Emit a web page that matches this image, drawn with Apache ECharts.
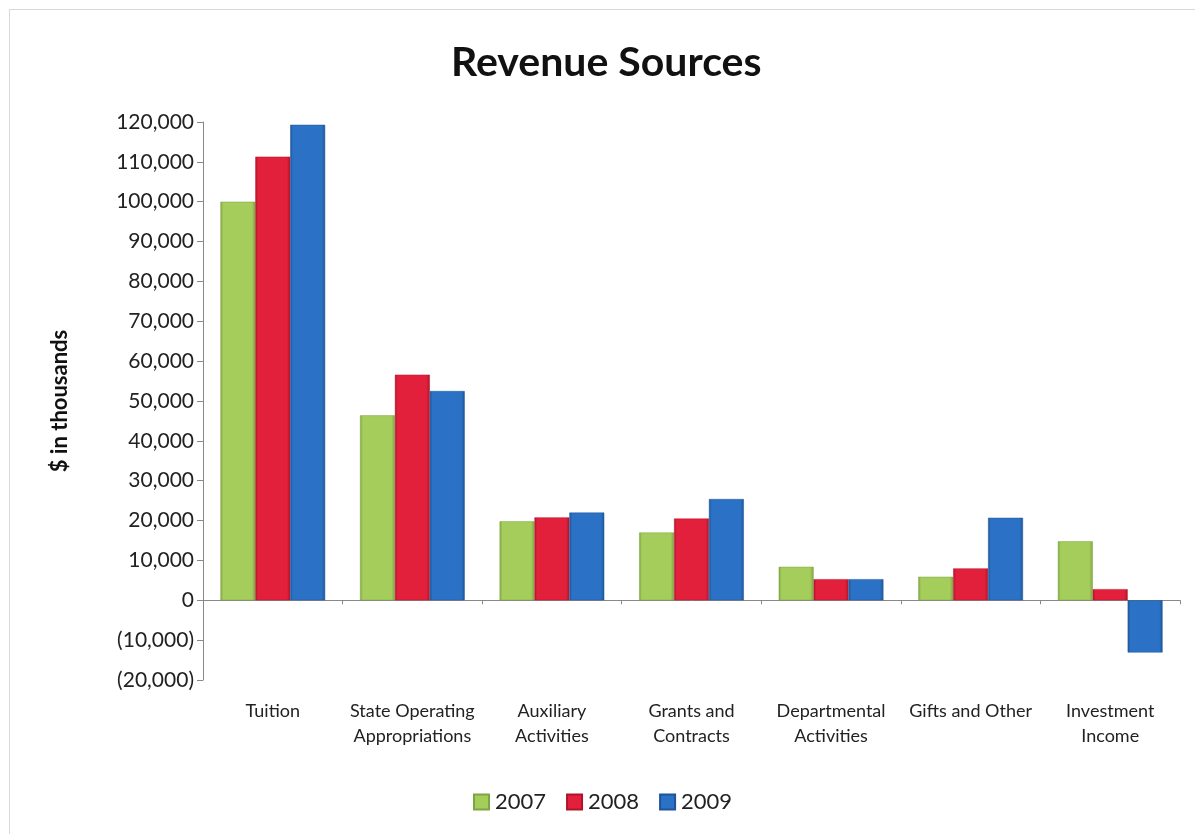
<!DOCTYPE html>
<html>
<head>
<meta charset="utf-8">
<script src="https://cdn.jsdelivr.net/npm/echarts@6/dist/echarts.min.js"></script>
<style>
html,body{margin:0;padding:0;background:#fff;}
#frame{position:absolute;left:9px;top:9px;width:1186px;height:825px;border-left:1px solid #d8d8d8;border-top:1px solid #d8d8d8;box-sizing:border-box;}
#chart{position:absolute;left:0;top:0;width:1195px;height:834px;}
</style>
</head>
<body>
<div id="frame"></div>
<div id="chart"></div>
<script>
const categories = ['Tuition', 'State Operating\nAppropriations', 'Auxiliary\nActivities', 'Grants and\nContracts', 'Departmental\nActivities', 'Gifts and Other', 'Investment\nIncome'];
const years = ['2007', '2008', '2009'];
const values2007 = [100000, 46400, 19800, 17000, 8400, 5900, 14800];
const values2008 = [111300, 56600, 20800, 20500, 5300, 8000, 2800];
const values2009 = [119300, 52500, 22000, 25400, 5300, 20700, -13100];
const colors = ['#a4cd5c', '#e3203b', '#2b72c6'];
const edgeColors = ['#7fa443', '#b0142a', '#1f5597'];

const chart = echarts.init(document.getElementById('chart'));
const fnt = 'Lato, "Open Sans", sans-serif';
function fmt(v){
  const s = Math.abs(v).toLocaleString('en-US');
  return v < 0 ? '(' + s + ')' : s;
}
function mkSeries(name, data, i){
  return {
    name: name, type: 'bar', data: data, xAxisIndex: 0,
    barGap: '0%', barCategoryGap: '25%',
    itemStyle: {
      color: new echarts.graphic.LinearGradient(0,0,1,0,[
        {offset:0, color: edgeColors[i]},
        {offset:0.08, color: colors[i]},
        {offset:0.9, color: colors[i]},
        {offset:1, color: edgeColors[i]}
      ]),
      borderColor: edgeColors[i], borderWidth: 0.5
    }
  };
}
chart.setOption({
  backgroundColor: 'transparent',
  animation: false,
  title: {
    text: 'Revenue Sources', left: 446, top: 37,
    textStyle: {fontFamily: fnt, fontWeight: 'bold', fontSize: 41, color: '#111'}
  },
  legend: {
    data: years, top: 786, left: 468,
    itemWidth: 15, itemHeight: 15, itemGap: 20, icon: 'rect',
    textStyle: {fontFamily: fnt, fontSize: 22, color: '#222', padding: [0,0,0,1]}
  },
  grid: {left: 203, right: 15, top: 122, bottom: 154, containLabel: false},
  xAxis: [
    {type: 'category', data: categories, position: 'bottom',
     axisLine: {show: false, onZero: false}, axisTick: {show: false},
     axisLabel: {fontFamily: fnt, fontSize: 18, color: '#222', lineHeight: 25, margin: 19, interval: 0}},
    {type: 'category', data: categories, position: 'bottom',
     axisLine: {show: true, onZero: true, lineStyle: {color: '#888', width: 1}},
     axisTick: {show: true, length: 4, lineStyle: {color: '#888'}},
     axisLabel: {show: false}}
  ],
  yAxis: {
    type: 'value', min: -20000, max: 120000, interval: 10000,
    name: '$ in thousands', nameLocation: 'middle', nameGap: 132, nameRotate: 90,
    nameTextStyle: {fontFamily: fnt, fontWeight: 'bold', fontSize: 22, color: '#111'},
    axisLine: {show: true, lineStyle: {color: '#888'}},
    axisTick: {show: true, length: 6, lineStyle: {color: '#888'}},
    splitLine: {show: false},
    axisLabel: {fontFamily: fnt, fontSize: 21, color: '#222', margin: 9, formatter: fmt}
  },
  series: [
    mkSeries(years[0], values2007, 0),
    mkSeries(years[1], values2008, 1),
    mkSeries(years[2], values2009, 2)
  ]
});
</script>
</body>
</html>
